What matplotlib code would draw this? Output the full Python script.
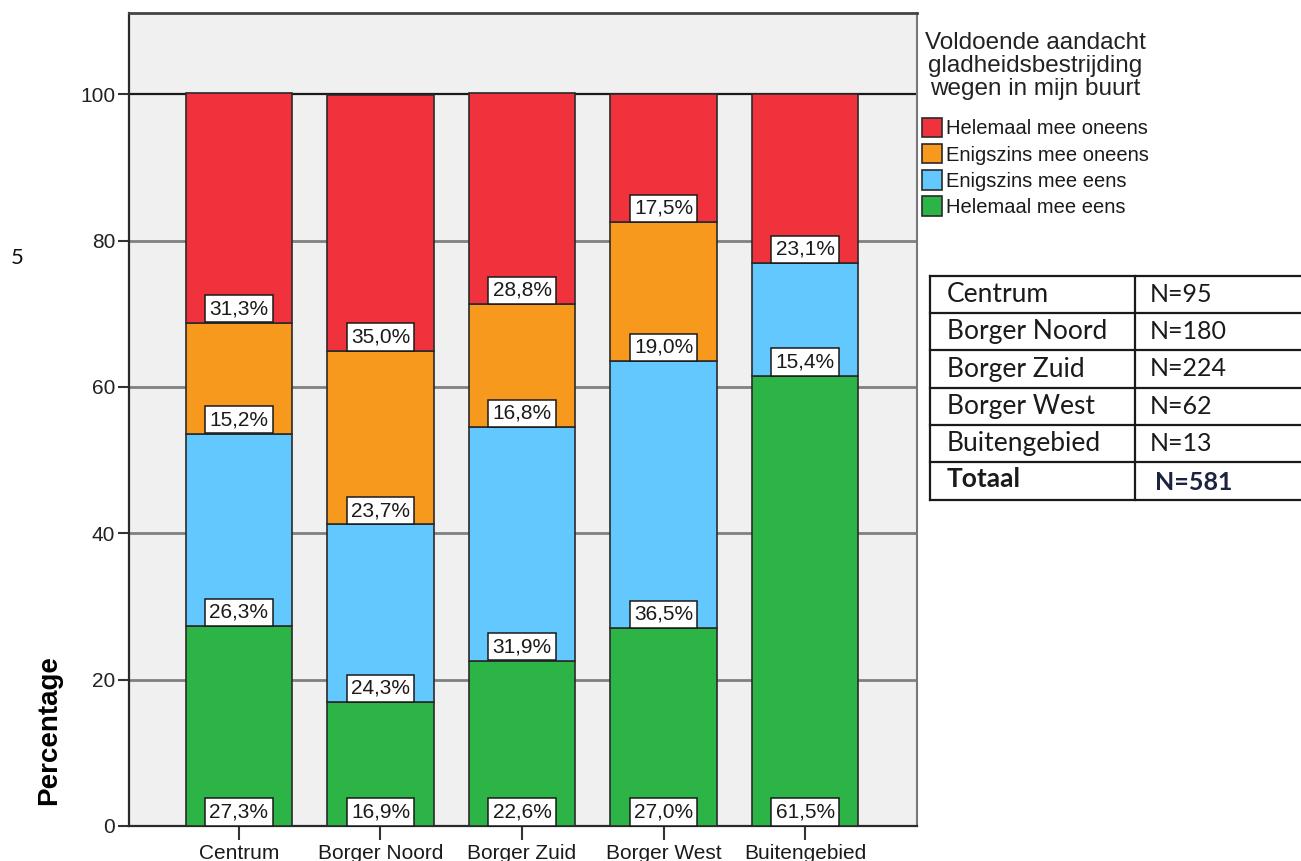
import matplotlib.pyplot as plt
from matplotlib.lines import Line2D
import numpy as np

# data
wijken = ['Centrum', 'Borger Noord', 'Borger Zuid', 'Borger West', 'Buitengebied']
helemaal_eens = [27.3, 16.9, 22.6, 27.0, 61.5]
enigszins_eens = [26.3, 24.3, 31.9, 36.5, 15.4]
enigszins_oneens = [15.2, 23.7, 16.8, 19.0, 0.0]
helemaal_oneens = [31.3, 35.0, 28.8, 17.5, 23.1]

series_names = ['Helemaal mee eens', 'Enigszins mee eens',
                'Enigszins mee oneens', 'Helemaal mee oneens']
series_colors = ['#2db446', '#62c8fd', '#f7991c', '#f0323c']

tabel_wijk = ['Centrum', 'Borger Noord', 'Borger Zuid', 'Borger West', 'Buitengebied', 'Totaal']
tabel_n = ['N=95', 'N=180', 'N=224', 'N=62', 'N=13', 'N=581']

plt.rcParams['font.family'] = ['Liberation Sans', 'DejaVu Sans']

fig = plt.figure(figsize=(13.01, 8.61), dpi=100)
ax = fig.add_axes([0.0992, 0.0407, 0.6056, 0.9442])
ax.set_facecolor('#f0f0f0')

x = np.arange(len(wijken))
width = 0.75
values = [helemaal_eens, enigszins_eens, enigszins_oneens, helemaal_oneens]
bottom = np.zeros(len(wijken))
handles = []
for vals, name, col in zip(values, series_names, series_colors):
    vals = np.array(vals)
    b = ax.bar(x, vals, width, bottom=bottom, color=col, edgecolor='#2a2a2a',
               linewidth=1.2, label=name, zorder=3)
    handles.append(b)
    for xi, base, v in zip(x, bottom, vals):
        if v > 0:
            ax.annotate(f'{v:.1f}%'.replace('.', ','), (xi, base),
                        xytext=(0, 3.2), textcoords='offset points',
                        ha='center', va='bottom', fontsize=15, color='#1a1a1a',
                        bbox=dict(boxstyle='square,pad=0.2', fc='white',
                                  ec='#1a1a1a', lw=1.1), zorder=4)
    bottom = bottom + vals

# grid
for g in [20, 40, 60, 80]:
    ax.axhline(g, color='#808080', lw=2, zorder=1)
ax.axhline(100, color='#1a1a1a', lw=1.6, zorder=1)

ax.set_xlim(-0.776, 4.79)
ax.set_ylim(0, 111.1)
ax.set_yticks([0, 20, 40, 60, 80, 100])
ax.set_xticks(x)
ax.set_xticklabels(wijken, fontsize=15, color='#1a1a1a')
ax.tick_params(axis='y', labelsize=15, length=8, width=1.5, color='#333333',
               labelcolor='#222222', pad=2)
ax.tick_params(axis='x', length=10, width=1.5, color='#333333', pad=3)
for s in ['left', 'bottom']:
    ax.spines[s].set_color('#2a2a2a')
    ax.spines[s].set_linewidth(1.6)
ax.spines['top'].set_color('#444444')
ax.spines['top'].set_linewidth(2)
ax.spines['right'].set_color('#777777')
ax.spines['right'].set_linewidth(1.5)
ax.set_ylabel('Percentage', fontsize=20, fontweight='bold')
ax.yaxis.set_label_coords(-0.085, 0.118)

# legend
leg = fig.legend(handles[::-1], series_names[::-1],
                 title='Voldoende aandacht\ngladheidsbestrijding\nwegen in mijn buurt',
                 loc='upper left', bbox_to_anchor=(0.7025, 0.972), frameon=False,
                 fontsize=14.5, title_fontsize=17.5, handlelength=1.0, handleheight=1.1,
                 handletextpad=0.2, labelspacing=0.28, borderaxespad=0)
title = leg.get_title()
title.set_color('#222222')
title.set_linespacing(1.05)
title.set_multialignment('center')
leg._legend_box.sep = 13
for t in leg.get_texts():
    t.set_color('#1a1a1a')

# N table
W, H = 1301.0, 861.0
rows_y = [276, 313, 350, 388, 425, 462, 500]
x_left, x_mid, x_right = 930, 1135, 1301
for yy in rows_y:
    fig.add_artist(Line2D([x_left / W, x_right / W], [1 - yy / H, 1 - yy / H],
                          color='#1a1a1a', lw=1.6))
for xx in [x_left, x_mid]:
    fig.add_artist(Line2D([xx / W, xx / W], [1 - rows_y[0] / H, 1 - rows_y[-1] / H],
                          color='#1a1a1a', lw=1.6))
for i, (wijk, n) in enumerate(zip(tabel_wijk, tabel_n)):
    yc = 1 - (rows_y[i] + rows_y[i + 1]) / 2 / H
    last = i == len(tabel_wijk) - 1
    fig.text(947 / W, yc + (0.002 if last else 0), wijk, fontsize=19, family='Lato',
             fontweight='bold' if last else 'normal', va='center', ha='left',
             color='#1a1a1a')
    fig.text((1150 if not last else 1155) / W, yc - (0.002 if last else 0), n,
             fontsize=18, family='Lato', fontweight='bold' if last else 'normal',
             va='center', ha='left', color='#1b2340' if last else '#1a1a1a')

fig.text(17 / W, 1 - 258 / H, '5', fontsize=16, family='Lato', va='center',
         ha='center', color='#111111')

fig.savefig('out.png', dpi=100)
